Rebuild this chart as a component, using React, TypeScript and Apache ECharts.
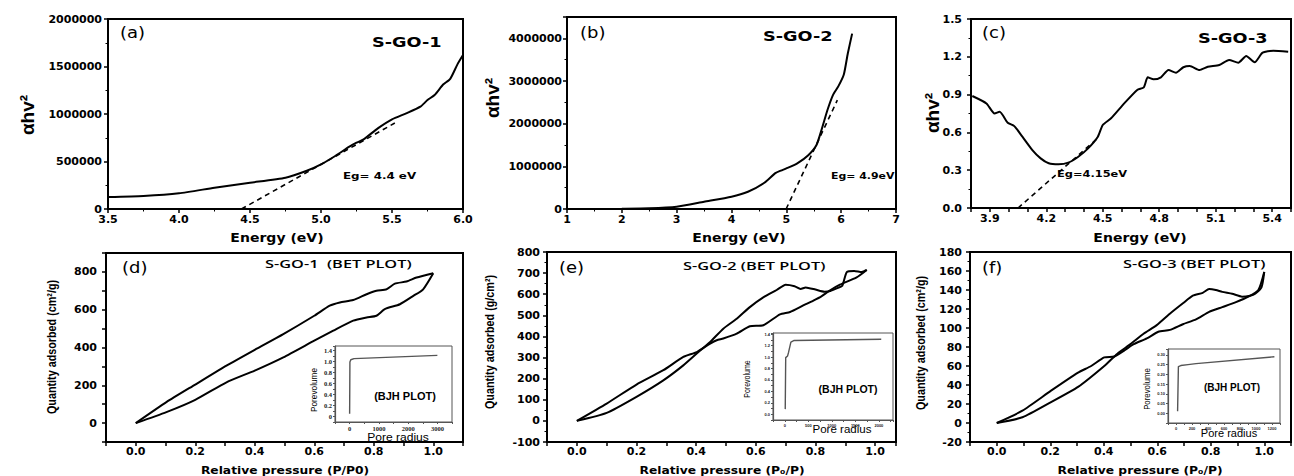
import React, { useEffect, useRef } from 'react';
import * as echarts from 'echarts';

// ---------- (a) S-GO-1 Tauc plot ----------
const aEnergy = [3.5, 3.75, 4.0, 4.25, 4.5, 4.75, 4.9, 5.0, 5.1, 5.2, 5.25, 5.3, 5.4, 5.5, 5.6, 5.7, 5.75, 5.8, 5.86, 5.91, 5.96, 6.0];
const aAbs = [126000, 137000, 165000, 224000, 277000, 330000, 403000, 470000, 558000, 656000, 698000, 733000, 849000, 944000, 1007000, 1077000, 1147000, 1200000, 1310000, 1370000, 1520000, 1620000];
const aFitE = [4.44, 5.52];
const aFitA = [0, 905000];

// ---------- (b) S-GO-2 Tauc plot ----------
const bEnergy = [1.5, 2.0, 2.5, 3.0, 3.5, 4.0, 4.3, 4.6, 4.8, 4.9, 5.0, 5.2, 5.4, 5.55, 5.65, 5.75, 5.85, 5.95, 6.05, 6.12, 6.2];
const bAbs = [0, 5000, 15000, 54000, 171000, 288000, 405000, 615000, 840000, 900000, 951000, 1070000, 1260000, 1500000, 1890000, 2320000, 2670000, 2880000, 3160000, 3640000, 4110000];
const bFitE = [4.996, 5.93];
const bFitA = [0, 2550000];

// ---------- (c) S-GO-3 Tauc plot ----------
const cEnergy = [3.807, 3.882, 3.925, 3.952, 3.995, 4.03, 4.073, 4.126, 4.17, 4.213, 4.265, 4.317, 4.37, 4.422, 4.474, 4.5, 4.544, 4.614, 4.683, 4.718, 4.739, 4.77, 4.809, 4.849, 4.889, 4.928, 4.962, 5.014, 5.058, 5.119, 5.171, 5.22, 5.262, 5.307, 5.349, 5.406, 5.485];
const cAbs = [0.889, 0.83, 0.75, 0.764, 0.677, 0.65, 0.566, 0.46, 0.394, 0.355, 0.347, 0.36, 0.407, 0.473, 0.566, 0.659, 0.712, 0.83, 0.937, 0.958, 1.037, 1.021, 1.037, 1.095, 1.074, 1.117, 1.127, 1.095, 1.121, 1.135, 1.175, 1.153, 1.206, 1.156, 1.233, 1.249, 1.241];
const cFitE = [4.05, 4.47];
const cFitA = [0, 0.55];

// ---------- (d) S-GO-1 BET ----------
const dUpP = [0, 0.103, 0.2, 0.305, 0.4, 0.496, 0.6, 0.652, 0.686, 0.731, 0.776, 0.809, 0.843, 0.871, 0.91, 0.944, 1.0];
const dUpQ = [0, 111, 204, 304, 388, 471, 568, 621, 638, 651, 682, 700, 708, 738, 749, 770, 793];
const dLoP = [0, 0.103, 0.2, 0.305, 0.4, 0.496, 0.6, 0.664, 0.731, 0.776, 0.809, 0.837, 0.888, 0.933, 0.966, 1.0];
const dLoQ = [0, 58, 123, 216, 278, 348, 436, 489, 542, 559, 568, 603, 629, 673, 708, 793];

// ---------- (e) S-GO-2 BET ----------
const eAP = [0, 0.1, 0.2, 0.29, 0.357, 0.402, 0.447, 0.469, 0.491, 0.536, 0.58, 0.625, 0.681, 0.715, 0.759, 0.793, 0.82, 0.845, 0.882, 0.938, 0.972];
const eAQ = [0, 82, 172, 240, 303, 326, 366, 382, 390, 413, 448, 453, 505, 516, 547, 570, 590, 615, 645, 680, 715];
const eBP = [0, 0.1, 0.2, 0.29, 0.357, 0.402, 0.447, 0.491, 0.536, 0.58, 0.625, 0.67, 0.7, 0.73, 0.75, 0.767, 0.8, 0.83, 0.85, 0.875, 0.89, 0.905, 0.93, 0.955, 0.972];
const eBQ = [0, 38, 114, 192, 263, 319, 374, 437, 484, 539, 585, 620, 645, 638, 625, 632, 622, 612, 615, 630, 640, 705, 710, 705, 715];

// ---------- (f) S-GO-3 BET ----------
const fAP = [0, 0.096, 0.203, 0.304, 0.353, 0.402, 0.439, 0.475, 0.512, 0.561, 0.604, 0.647, 0.696, 0.745, 0.794, 0.843, 0.892, 0.941, 0.978, 1.0];
const fAQ = [0, 13, 34, 53, 60, 69, 70, 76, 83, 89, 96, 98, 104, 109, 117, 122, 127, 133, 140, 159];
const fBP = [0, 0.096, 0.203, 0.304, 0.402, 0.451, 0.5, 0.549, 0.598, 0.647, 0.696, 0.733, 0.77, 0.794, 0.819, 0.843, 0.88, 0.917, 0.947, 0.966, 0.99, 1.0];
const fBQ = [0, 6, 22, 38, 60, 73, 83, 94, 103, 115, 126, 134, 137, 141, 140, 138, 136, 133, 134, 136, 143, 159];

// ---------- BJH insets ----------
const dInR = [0, 10, 40, 150, 3000];
const dInV = [0.05, 0.99, 1.03, 1.05, 1.11];
const dInYLabels = ['0', '0.2', '0.4', '0.6', '0.8', '1.0', '1.4'];
const eInR = [10, 20, 60, 80, 130, 200, 2050];
const eInV = [0.09, 0.99, 1.02, 1.08, 1.26, 1.29, 1.31];
const fInR = [20, 30, 60, 150, 250, 1230];
const fInV = [0.01, 0.24, 0.245, 0.25, 0.255, 0.29];

const W = 1294;
const H = 476;

const isMul = (v: number, s: number) => Math.abs(v / s - Math.round(v / s)) < 1e-6;
const fmtStep = (step: number, lo: number, hi: number, digits: number) => (v: number) =>
  isMul(v, step) && v >= lo - 1e-9 && v <= hi + 1e-9 ? (digits >= 0 ? v.toFixed(digits) : String(Math.round(v))) : '';

const pairs = (xs: number[], ys: number[]) => xs.map((x, i) => [x, ys[i]]);

function mainAxis(gi: number, pos: string, min: number, max: number, interval: number, fmt: any, margin: number, minor: boolean) {
  return {
    type: 'value', gridIndex: gi, position: pos, min, max, interval,
    axisLine: { show: true, onZero: false, lineStyle: { color: '#000', width: 2 } },
    axisTick: { show: true, inside: false, length: 4, lineStyle: { color: '#000', width: 1.5 } },
    minorTick: { show: minor, splitNumber: 2, length: 2.5, lineStyle: { color: '#000', width: 1 } },
    splitLine: { show: false },
    minorSplitLine: { show: false },
    axisLabel: { color: '#000', fontFamily: 'DejaVu Sans', fontWeight: 'bold', fontSize: 11, margin, formatter: fmt },
  };
}

function insetAxis(gi: number, pos: string, min: number, max: number, interval: number, fmt: any, size: number, family: string) {
  return {
    type: 'value', gridIndex: gi, position: pos, min, max, interval,
    axisLine: { show: true, onZero: false, lineStyle: { color: '#555', width: 1.2 } },
    axisTick: { show: true, inside: false, length: 2, lineStyle: { color: '#555', width: 1 } },
    splitLine: { show: false },
    axisLabel: { color: '#222', fontFamily: family, fontWeight: 'bold', fontSize: size, margin: 3, formatter: fmt },
  };
}

function line(idx: number, data: number[][], opts: any = {}) {
  return {
    type: 'line', xAxisIndex: idx, yAxisIndex: idx, data, showSymbol: false, symbol: 'none',
    smooth: opts.smooth ?? 0.2, silent: true, z: opts.z ?? 3,
    lineStyle: { color: opts.color || '#000', width: opts.width || 2, type: opts.type || 'solid' },
  };
}

function T(x: number, y: number, text: string, o: any = {}) {
  return {
    type: 'text', x, y, rotation: o.rot || 0, scaleX: o.sx || 1, scaleY: 1, z: 100, silent: true,
    style: {
      text, x: 0, y: 0, fill: o.color || '#000',
      fontSize: o.size || 12, fontWeight: o.weight || 'normal', fontFamily: o.family || 'DejaVu Sans',
      align: o.align || 'center', verticalAlign: 'middle',
    },
  };
}

function buildOption() {
  const mainGrid = { show: true, borderColor: '#000', borderWidth: 2, backgroundColor: 'transparent', containLabel: false };
  const insetGrid = { show: true, borderColor: '#555', borderWidth: 1, backgroundColor: '#fff', containLabel: false };
  const grid = [
    { ...mainGrid, left: 108, top: 19, width: 355, height: 190 },
    { ...mainGrid, left: 567, top: 17, width: 329, height: 192 },
    { ...mainGrid, left: 971, top: 19, width: 325, height: 189 },
    { ...mainGrid, left: 106, top: 253, width: 357, height: 189 },
    { ...mainGrid, left: 547, top: 252, width: 349, height: 190 },
    { ...mainGrid, left: 970, top: 252, width: 327, height: 190 },
    { ...insetGrid, left: 335, top: 346, width: 117, height: 76 },
    { ...insetGrid, left: 773, top: 333, width: 120, height: 87 },
    { ...insetGrid, left: 1168, top: 349, width: 112, height: 74 },
  ];

  const xAxis = [
    mainAxis(0, 'bottom', 3.5, 6.0, 0.5, fmtStep(0.5, 3.5, 6.0, 1), 5, true),
    mainAxis(1, 'bottom', 1, 7, 1, fmtStep(1, 1, 7, 0), 5, true),
    mainAxis(2, 'bottom', 3.8, 5.5, 0.1, fmtStep(0.3, 3.9, 5.4, 1), 5, false),
    mainAxis(3, 'bottom', -0.1, 1.1, 0.1, fmtStep(0.2, 0, 1, 1), 4, false),
    mainAxis(4, 'bottom', -0.1, 1.07, 0.1, fmtStep(0.2, 0, 1, 1), 4, false),
    mainAxis(5, 'bottom', -0.1, 1.1, 0.1, fmtStep(0.2, 0, 1, 1), 4, false),
    insetAxis(6, 'bottom', -500, 3500, 500, fmtStep(1000, 0, 3000, -1), 6.5, 'Liberation Serif'),
    insetAxis(7, 'bottom', -250, 2300, 250, fmtStep(500, 0, 2000, -1), 4, 'Liberation Sans'),
    insetAxis(8, 'bottom', -100, 1300, 100, fmtStep(200, 0, 1200, -1), 4, 'Liberation Sans'),
  ];

  const yAxis = [
    mainAxis(0, 'left', 0, 2000000, 500000, fmtStep(500000, 0, 2000000, -1), 6, true),
    mainAxis(1, 'left', 0, 4500000, 1000000, fmtStep(1000000, 0, 4000000, -1), 5, true),
    mainAxis(2, 'left', 0, 1.5, 0.3, fmtStep(0.3, 0, 1.5, 1), 9, true),
    mainAxis(3, 'left', -100, 900, 100, fmtStep(200, 0, 800, -1), 9, false),
    mainAxis(4, 'left', -100, 800, 100, fmtStep(100, -100, 800, -1), 7, true),
    mainAxis(5, 'left', -20, 180, 20, fmtStep(20, -20, 180, -1), 8, true),
    insetAxis(6, 'left', -0.1, 1.28, 0.1, (v: number) => {
      if (!isMul(v, 0.2) || v < -1e-9) return '';
      return dInYLabels[Math.round(v / 0.2)] ?? '';
    }, 6.5, 'Liberation Serif'),
    insetAxis(7, 'left', -0.1, 1.42, 0.1, fmtStep(0.2, 0, 1.4, 1), 4, 'Liberation Sans'),
    insetAxis(8, 'left', -0.05, 0.33, 0.05, fmtStep(0.05, 0, 0.3, 2), 4, 'Liberation Sans'),
  ];

  const dash = { type: [5, 4], width: 1.6, smooth: false };
  const series = [
    line(0, pairs(aEnergy, aAbs)),
    line(0, pairs(aFitE, aFitA), dash),
    line(1, pairs(bEnergy, bAbs)),
    line(1, pairs(bFitE, bFitA), dash),
    line(2, pairs(cEnergy, cAbs)),
    line(2, pairs(cFitE, cFitA), dash),
    line(3, pairs(dUpP, dUpQ)),
    line(3, pairs(dLoP, dLoQ)),
    line(4, pairs(eAP, eAQ)),
    line(4, pairs(eBP, eBQ)),
    line(5, pairs(fAP, fAQ)),
    line(5, pairs(fBP, fBQ)),
    line(6, pairs(dInR, dInV), { color: '#555', width: 1.4, smooth: false, z: 5 }),
    line(7, pairs(eInR, eInV), { color: '#555', width: 1.4, smooth: false, z: 5 }),
    line(8, pairs(fInR, fInV), { color: '#555', width: 1.4, smooth: false, z: 5 }),
  ];

  const R = Math.PI / 2;
  const bold = 'bold';
  const bet = { size: 11.5, sx: 1.42, align: 'left', family: 'Open Sans', weight: 600 };
  const qTitle = { size: 13, sx: 0.83, weight: bold, family: 'Liberation Sans', rot: R };
  const g: any[] = [
    // top row
    T(120, 33, '(a)', { size: 15, sx: 1.2, align: 'left' }),
    T(372, 42, 'S-GO-1', { size: 14.5, sx: 1.22, weight: bold, align: 'left' }),
    T(343, 176, 'Eg= 4.4 eV', { size: 9.5, sx: 1.25, weight: bold, align: 'left' }),
    T(277, 238, 'Energy (eV)', { size: 12, sx: 1.17, weight: bold }),
    T(27, 115, 'αhv²', { size: 19, weight: bold, family: 'Liberation Sans', rot: R }),

    T(580, 33, '(b)', { size: 15, sx: 1.2, align: 'left' }),
    T(763, 36, 'S-GO-2', { size: 14.5, sx: 1.22, weight: bold, align: 'left' }),
    T(831, 176, 'Eg= 4.9eV', { size: 9.5, sx: 1.15, weight: bold, align: 'left' }),
    T(739, 238, 'Energy (eV)', { size: 12, sx: 1.17, weight: bold }),
    T(492, 98, 'αhv²', { size: 19, weight: bold, family: 'Liberation Sans', rot: R }),

    T(982, 33, '(c)', { size: 15, sx: 1.2, align: 'left' }),
    T(1198, 38, 'S-GO-3', { size: 14.5, sx: 1.22, weight: bold, align: 'left' }),
    T(1057, 173, 'Eg=4.15eV', { size: 9.5, sx: 1.2, weight: bold, align: 'left' }),
    T(1140, 238, 'Energy (eV)', { size: 12, sx: 1.17, weight: bold }),
    T(932, 113, 'αhv²', { size: 19, weight: bold, family: 'Liberation Sans', rot: R }),

    // bottom row
    T(122, 268, '(d)', { size: 15, sx: 1.2, align: 'left' }),
    T(265, 264, 'S-GO-1  (BET PLOT)', bet),
    T(52, 347, 'Quantity adsorbed (cm²/g)', qTitle),
    T(285, 470, 'Relative pressure (P/P0)', { size: 10.5, sx: 1.17, weight: bold }),

    T(559, 268, '(e)', { size: 15, sx: 1.2, align: 'left' }),
    T(683, 266, 'S-GO-2 (BET PLOT)', bet),
    T(490, 342, 'Quantity adsorbed (g/cm²)', qTitle),
    T(722, 470, 'Relative pressure (P₀/P)', { size: 10.5, sx: 1.17, weight: bold }),

    T(982, 268, '(f)', { size: 15, sx: 1.2, align: 'left' }),
    T(1123, 264, 'S-GO-3 (BET PLOT)', bet),
    T(921, 343, 'Quantity adsorbed (cm²/g)', qTitle),
    T(1140, 470, 'Relative pressure (P₀/P)', { size: 10.5, sx: 1.17, weight: bold }),

    // insets
    T(314, 390, 'Porevolume', { size: 9, sx: 0.92, family: 'Liberation Sans', rot: R }),
    T(398, 437, 'Pore radius', { size: 11.5, sx: 1.05, family: 'Liberation Sans' }),
    T(405, 396, '(BJH PLOT)', { size: 11, weight: bold, family: 'Liberation Sans' }),

    T(747, 379, 'Porevolume', { size: 9, sx: 0.78, family: 'Liberation Sans', rot: R }),
    T(842, 429, 'Pore radius', { size: 11, sx: 1.05, family: 'Liberation Sans' }),
    T(848, 389, '(BJH PLOT)', { size: 10.5, weight: bold, family: 'Liberation Sans' }),

    T(1147, 389, 'Porevolume', { size: 9, sx: 0.87, family: 'Liberation Sans', rot: R }),
    T(1229, 433, 'Pore radius', { size: 10.5, sx: 1.05, family: 'Liberation Sans' }),
    T(1232, 387, '(BJH PLOT)', { size: 10, weight: bold, family: 'Liberation Sans' }),
  ];

  return {
    animation: false,
    backgroundColor: '#fff',
    grid,
    xAxis,
    yAxis,
    series,
    graphic: { elements: g },
  };
}

export default function App() {
  const ref = useRef<HTMLDivElement>(null);
  useEffect(() => {
    if (!ref.current) return;
    const chart = echarts.init(ref.current, null, { renderer: 'svg', width: W, height: H });
    chart.setOption(buildOption() as any);
    return () => chart.dispose();
  }, []);
  return (
    <div
      ref={ref}
      style={{ position: 'absolute', left: 0, top: 0, width: W, height: H, background: '#fff', overflow: 'hidden' }}
    />
  );
}
